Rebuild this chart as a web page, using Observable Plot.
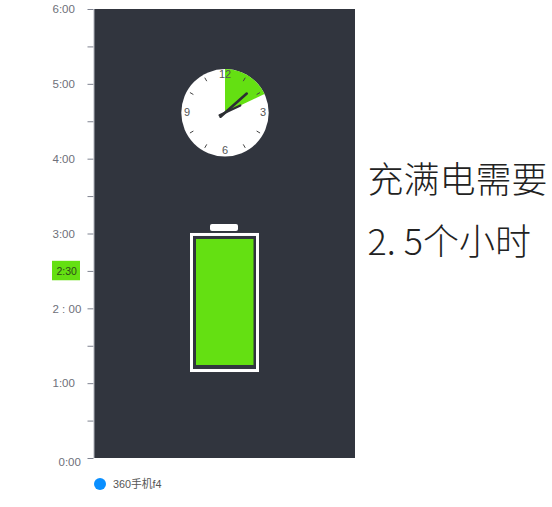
<!DOCTYPE html>
<html>
<head>
<meta charset="utf-8">
<script src="https://cdn.jsdelivr.net/npm/d3@7"></script>
<script src="https://cdn.jsdelivr.net/npm/@observablehq/plot@0.6"></script>
<style>
html,body{margin:0;padding:0;background:#fff;}
#legend{position:relative;height:35px;font:10.8px "Liberation Sans","Noto Sans CJK SC",sans-serif;color:#555;}
#legend i{position:absolute;left:94px;top:6px;width:12px;height:12px;border-radius:50%;background:#0a8fff;}
#legend span{position:absolute;left:113px;top:6px;line-height:13px;}
svg{display:block;overflow:visible;}
</style>
</head>
<body>
<div id="chart"></div>
<div id="legend"><i></i><span></span></div>
<script>
const seriesName = "360手机f4";
const chargeHours = 2.5;
const tickValues = [0,0.5,1,1.5,2,2.5,3,3.5,4,4.5,5,5.5,6];
const tickLabels = [
  {v:6,    t:"6:00",   x:-42},
  {v:5,    t:"5:00",   x:-42},
  {v:4,    t:"4:00",   x:-42},
  {v:3,    t:"3:00",   x:-42},
  {v:2,    t:"2 : 00", x:-42},
  {v:1,    t:"1:00",   x:-42},
  {v:-0.055, t:"0:00", x:-36}
];
const headline = [
  {x:274, v:3.70, t:"充满电需要"},
  {x:274, v:2.87, t:"2. 5个小时"}
];
const clockLabels = [
  {h:12, t:"12"}, {h:3, t:"3"}, {h:6, t:"6"}, {h:9, t:"9"}
];
const clockTicks = [1,2,4,5,7,8,10,11];
const hands = [
  {h:1.62, len:29, w:2.6},
  {h:2.15, len:17, w:2.2}
];
const wedgeEndHour = 2.15;

// y-scale: px per hour, used so that the dial stays round
const pph = 449 / 6;
const cx = 130.5, cv = 4.62, R = 43.7;
const polar = (hour, r) => {
  const a = hour / 12 * 2 * Math.PI;
  return {x: cx + r * Math.sin(a), v: cv + r * Math.cos(a) / pph};
};
const wedge = [{x:cx, v:cv}, ...d3.range(0, 41).map(i => polar(wedgeEndHour * i / 40, R)), {x:cx, v:cv}];

const dark = "#31353e", green = "#64e012", gray = "#6e7079";

const plot = Plot.plot({
  width: 552, height: 472,
  marginLeft: 94, marginRight: 197, marginTop: 9, marginBottom: 14,
  x: {domain: [0, 261], axis: null},
  y: {domain: [0, 6], axis: null},
  style: {fontFamily: '"Liberation Sans","Noto Sans CJK SC",sans-serif', background: "#fff", overflow: "visible"},
  marks: [
    Plot.rect([0], {x1: 0, x2: 261, y1: 0, y2: 6, fill: dark}),
    Plot.axisY({ticks: tickValues, tickSize: 6, tickFormat: () => "", label: null, stroke: "#7f8390", anchor: "left", x: -0.5}),
    Plot.ruleX([-0.5], {y1: 0, y2: 6, stroke: "#b0b3bb", strokeWidth: 1}),

    // 2:30 highlighted label
    Plot.rect([chargeHours], {x1: -42, x2: -14, y1: d => d + 0.135, y2: d => d - 0.125, fill: green}),
    Plot.text([chargeHours], {y: d => d, x: -38, textAnchor: "start", text: () => "2:30", fontSize: 10.5, fill: "#2f4a1a"}),

    Plot.text(tickLabels, {y: "v", text: "t", x: "x", textAnchor: "start", fontSize: 11.5, fill: gray}),

    // clock
    Plot.dot([{x: cx, v: cv}], {x: "x", y: "v", r: R, fill: "#fff", stroke: "none"}),
    Plot.line(wedge, {x: "x", y: "v", fill: green, stroke: "none"}),
    ...clockTicks.map(h => Plot.link([h], {
      x1: d => polar(d, 36.5).x, y1: d => polar(d, 36.5).v,
      x2: d => polar(d, 40.5).x, y2: d => polar(d, 40.5).v,
      stroke: "#444", strokeWidth: 1
    })),
    Plot.text(clockLabels, {x: d => polar(d.h, 38).x, y: d => polar(d.h, 38).v, text: "t", fontSize: 11, fill: "#555"}),
    ...hands.map(hd => Plot.link([hd], {
      x1: d => polar(d.h, -6).x, y1: d => polar(d.h, -6).v,
      x2: d => polar(d.h, d.len).x, y2: d => polar(d.h, d.len).v,
      stroke: "#2c2e33", strokeWidth: d => d.w, strokeLinecap: "round"
    })),

    // battery
    Plot.rect([0], {x1: 116, x2: 144, y1: 3.127, y2: 3.034, fill: "#fff", rx: 2}),
    Plot.rect([0], {x1: 97.5, x2: 163.5, y1: 1.169, y2: 2.987, fill: "none", stroke: "#fff", strokeWidth: 3}),
    Plot.rect([0], {x1: 102, x2: 159.5, y1: 1.243, y2: 2.927, fill: green}),

    // side text
    Plot.text(headline, {x: "x", y: "v", text: "t", textAnchor: "start", fontSize: 36, fontWeight: 300, fill: "#222", fontFamily: '"Noto Sans CJK SC",sans-serif', dx: -1})
  ]
});
document.getElementById("chart").append(plot);
document.querySelector("#legend span").textContent = seriesName;
</script>
</body>
</html>
